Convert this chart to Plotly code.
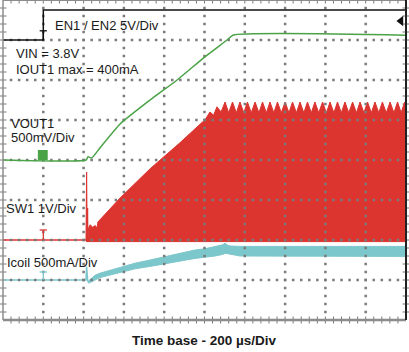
import plotly.graph_objects as go

# Time in microseconds (200 us/div, 10 div); levels in screen divisions (0 = bottom, 8 = top)
en_t = [0, 200, 200, 2000]
en_v = [7.0, 7.0, 7.75, 7.75]

vout_t = [0, 412, 422, 440, 481, 581, 730, 864, 1002, 1112, 1141, 2000]
vout_v = [4.0, 4.0, 4.08, 4.05, 4.3, 4.9, 5.5, 6.0, 6.58, 7.0, 7.12, 7.12]

sw_base_t = [0, 412]
sw_base_v = [2.0, 2.0]
sw_ramp_t = [412, 415, 418, 420, 422, 425, 432, 445, 458, 467, 471, 581, 730, 878, 990, 1002, 1027, 1045, 1062, 1082]
sw_ramp_v = [2.0, 3.7, 2.0, 2.8, 2.0, 2.3, 2.38, 2.32, 2.36, 2.3, 2.45, 3.05, 3.78, 4.43, 4.95, 5.0, 5.2, 5.12, 5.33, 5.2]
sw_peak_t = [1102, 1139, 1176, 1213, 1251, 1288, 1325, 1362, 1400, 1437, 1474, 1511, 1548,
             1586, 1623, 1660, 1697, 1735, 1772, 1809, 1846, 1883, 1921, 1958, 1993]
sw_peak_v = [5.45, 5.45, 5.45, 5.45, 5.45, 5.45, 5.45, 5.45, 5.45, 5.45, 5.45, 5.45, 5.45,
             5.45, 5.45, 5.45, 5.45, 5.45, 5.45, 5.45, 5.45, 5.45, 5.45, 5.45, 5.45]
sw_trough_t = [1120, 1158, 1195, 1232, 1270, 1307, 1344, 1381, 1419, 1456, 1493, 1530,
               1567, 1605, 1642, 1679, 1716, 1754, 1791, 1828, 1865, 1902, 1940, 1976]
sw_trough_v = [5.18, 5.18, 5.18, 5.18, 5.18, 5.18, 5.18, 5.18, 5.18, 5.18, 5.18, 5.18,
               5.18, 5.18, 5.18, 5.18, 5.18, 5.18, 5.18, 5.18, 5.18, 5.18, 5.18, 5.18]
sw_floor_v = 1.96

ic_line_t = [0, 412, 415, 420, 425]
ic_line_v = [1.0, 1.0, 1.33, 1.0, 0.93]
ic_up_t = [425, 457, 481, 655, 730, 953, 1002, 1052, 1090, 1102, 1115, 1127, 1176, 2000]
ic_up_v = [0.98, 1.12, 1.17, 1.42, 1.5, 1.75, 1.78, 1.83, 1.88, 1.92, 1.87, 1.85, 1.84, 1.84]
ic_lo_t = [425, 457, 481, 655, 730, 953, 1002, 1052, 1090, 1102, 1115, 1136, 1176, 2000]
ic_lo_v = [0.92, 1.0, 1.06, 1.28, 1.34, 1.54, 1.57, 1.6, 1.64, 1.67, 1.65, 1.63, 1.6, 1.59]

ref_t = 200
ref_en = (7.0, 7.23)
ref_vout = (4.0, 4.25)
ref_sw = (2.0, 2.25)
ref_ic = (1.0, 1.2)
trig_t, trig_v = 1975, 7.475

labels = [
    ("EN1 / EN2 5V/Div", 250, 7.375),
    ("VIN = 3.8V", 55, 6.675),
    ("IOUT1 max = 400mA", 55, 6.275),
    ("VOUT1", 30, 4.925),
    ("500mV/Div", 30, 4.575),
    ("SW1 1V/Div", 5, 2.8),
    ("Icoil 500mA/Div", 10, 1.45),
]
xlabel = "Time base - 200 \u00b5s/Div"

T_DIV, N_XDIV, N_YDIV, N_SUB = 200, 10, 8, 5

RED = "#dc3530"
GREEN = "#4aa346"
CYAN = "#7cc7cb"
GRID = "#7a7a7a"
FONT = "Liberation Sans, Arial, sans-serif"

# build SW1 envelope from the read peaks/troughs
sw_t = list(sw_ramp_t)
sw_v = list(sw_ramp_v)
for i, (pt, pv) in enumerate(zip(sw_peak_t, sw_peak_v)):
    sw_t.append(pt); sw_v.append(pv)
    if i < len(sw_trough_t):
        sw_t.append(sw_trough_t[i]); sw_v.append(sw_trough_v[i])
sw_t.append(2000); sw_v.append(sw_peak_v[-1] - 0.1)

fig = go.Figure()

# minor tick marks on the screen border
tx = [i * T_DIV / N_SUB for i in range(1, N_XDIV * N_SUB)]
ty = [i / N_SUB for i in range(1, N_YDIV * N_SUB)]
fig.add_trace(go.Scatter(x=tx + tx, y=[0] * len(tx) + [N_YDIV] * len(tx), mode="markers",
                         marker=dict(symbol="line-ns-open", size=5, color=GRID,
                                     line=dict(color=GRID, width=1)), cliponaxis=False))
fig.add_trace(go.Scatter(x=[0] * len(ty) + [N_XDIV * T_DIV] * len(ty), y=ty + ty, mode="markers",
                         marker=dict(symbol="line-ew-open", size=5, color=GRID,
                                     line=dict(color=GRID, width=1)), cliponaxis=False))

# Icoil
fig.add_trace(go.Scatter(x=ic_line_t, y=ic_line_v, mode="lines",
                         line=dict(color=CYAN, width=1.5)))
fig.add_trace(go.Scatter(x=ic_up_t + ic_lo_t[::-1], y=ic_up_v + ic_lo_v[::-1],
                         mode="lines", fill="toself", fillcolor=CYAN,
                         line=dict(color=CYAN, width=1)))

# SW1
fig.add_trace(go.Scatter(x=sw_base_t, y=sw_base_v, mode="lines",
                         line=dict(color=RED, width=1.5)))
fig.add_trace(go.Scatter(x=sw_t + [2000, sw_t[0]], y=sw_v + [sw_floor_v, sw_floor_v],
                         mode="lines", fill="toself", fillcolor=RED,
                         line=dict(color=RED, width=1)))

# graticule: dotted division lines (one dot per sub-division), shown over the traces
gx, gy = [], []
for k in range(1, N_XDIV):
    for j in range(1, N_YDIV * N_SUB):
        gx.append(k * T_DIV); gy.append(j / N_SUB)
for k in range(1, N_YDIV):
    for j in range(1, N_XDIV * N_SUB):
        gx.append(j * T_DIV / N_SUB); gy.append(k)
fig.add_trace(go.Scatter(x=gx, y=gy, mode="markers",
                         marker=dict(symbol="square", size=2.5, color=GRID, line=dict(width=0))))

# VOUT1
fig.add_trace(go.Scatter(x=vout_t, y=vout_v, mode="lines",
                         line=dict(color=GREEN, width=1.5, shape="spline", smoothing=0.5)))

# EN
fig.add_trace(go.Scatter(x=en_t, y=en_v, mode="lines",
                         line=dict(color="#111111", width=1.5)))

# reference markers
def tee(lv, color, hw=18):
    base, top = lv
    return go.Scatter(x=[ref_t - hw, ref_t + hw, None, ref_t, ref_t],
                      y=[top, top, None, top, base], mode="lines",
                      line=dict(color=color, width=1.3))

fig.add_trace(tee(ref_en, "#111111"))
fig.add_trace(tee(ref_sw, RED))
fig.add_trace(tee(ref_ic, CYAN))
fig.add_shape(type="rect", x0=ref_t - 27, x1=ref_t + 22, y0=ref_vout[0], y1=ref_vout[1],
              fillcolor=GREEN, line=dict(width=0))
fig.add_trace(go.Scatter(x=[ref_t - 14, ref_t + 10, None, ref_t - 2, ref_t - 2],
                         y=[ref_vout[1] - 0.05, ref_vout[1] - 0.05, None,
                            ref_vout[1] - 0.05, ref_vout[0] + 0.02],
                         mode="lines", line=dict(color="white", width=1.5)))

# trigger arrow
fig.add_trace(go.Scatter(x=[trig_t], y=[trig_v], mode="markers",
                         marker=dict(symbol="triangle-left", size=9, color="#111111")))

for txt, x, y in labels:
    fig.add_annotation(x=x, y=y, text=txt, showarrow=False, xanchor="left",
                       yanchor="middle", font=dict(family=FONT, size=13, color="#1a1a1a"))
fig.add_annotation(x=0.499, y=-0.0625, xref="paper", yref="paper", text="<b>" + xlabel + "</b>",
                   showarrow=False, xanchor="center", yanchor="middle",
                   font=dict(family=FONT, size=13.5, color="#1a1a1a"))

# frame
fig.add_shape(type="line", xref="paper", yref="paper", x0=0, x1=0, y0=0, y1=1,
              line=dict(color="#8c8c8c", width=1.5))
fig.add_shape(type="line", xref="paper", yref="paper", x0=0, x1=1, y0=1, y1=1,
              line=dict(color="#8c8c8c", width=2))
fig.add_shape(type="line", xref="paper", yref="paper", x0=0, x1=1, y0=0, y1=0,
              line=dict(color="#8c8c8c", width=2.5))
fig.add_shape(type="line", xref="paper", yref="paper", x0=1, x1=1, y0=0, y1=1,
              line=dict(color="#222222", width=2))

fig.update_xaxes(range=[0, N_XDIV * T_DIV], showgrid=False, zeroline=False,
                 showticklabels=False, ticks="")
fig.update_yaxes(range=[0, N_YDIV], showgrid=False, zeroline=False,
                 showticklabels=False, ticks="")

fig.update_layout(width=409, height=352, margin=dict(l=3, r=3, t=0, b=32),
                  paper_bgcolor="white", plot_bgcolor="white", showlegend=False)

fig.write_html("out.html")
